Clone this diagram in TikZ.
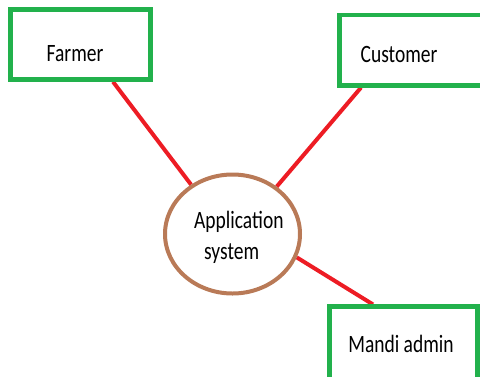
\documentclass[tikz,border=0pt]{standalone}
\usepackage{fontspec}
\setmainfont{Carlito}
\usepackage{xcolor}
\usepackage{tikz}
\usetikzlibrary{shapes.geometric, backgrounds}

\definecolor{boxgreen}{RGB}{34,177,76}
\definecolor{linkred}{RGB}{237,28,36}
\definecolor{ovalbrown}{RGB}{185,122,87}
\newcommand{\tallfont}[1]{\scalebox{1}[1.28]{#1}}

\begin{document}
\begin{tikzpicture}[x=1pt, y=-1pt,
        actor/.style={draw=boxgreen, line width=4.5pt, rectangle, inner sep=0pt},
        system/.style={draw=ovalbrown, line width=4pt, ellipse, inner sep=0pt,
            minimum width=135pt, minimum height=119pt},
        link/.style={draw=linkred, line width=4pt},
        boxtext/.style={font=\fontsize{19.5}{24}\selectfont, anchor=base, inner sep=0pt}]
        % Frame
        \useasboundingbox (0,0) rectangle (480,376);
        \clip (0,0) rectangle (480,376);

        % Actors
        \node[actor, minimum width=140pt, minimum height=70pt] (farmer) at (80.5,44.5) {};
        \node[actor, minimum width=180pt, minimum height=70.3pt] (customer) at (429.5,50.15) {};
        \node[actor, minimum width=148pt, minimum height=113pt] (mandi) at (403.5,363.2) {};

        % Application system
        \node[system] (app) at (232.5,234) {};

        % Texts
        \node[boxtext] (farmertext) at (75,61) {\tallfont{Farmer}};
        \node[boxtext] (customertext) at (399,62.7) {\tallfont{Customer}};
        \node[boxtext] (manditext) at (401,352.7) {\tallfont{Mandi admin}};
        \node[boxtext, anchor=base west] (apptext) at (194,228.3)
            {\tallfont{\begin{tabular}[t]{@{}l@{}}Application\\\hspace{10pt}system\end{tabular}}};

        % Links
        \begin{scope}[on background layer]
            \draw[link] (113,0 |- farmer.south) -- (app.130);
            \draw[link] (361,0 |- customer.south) -- (app.47);
            \draw[link] (373,0 |- mandi.north) -- (app.-20);
        \end{scope}
    \end{tikzpicture}
\end{document}
